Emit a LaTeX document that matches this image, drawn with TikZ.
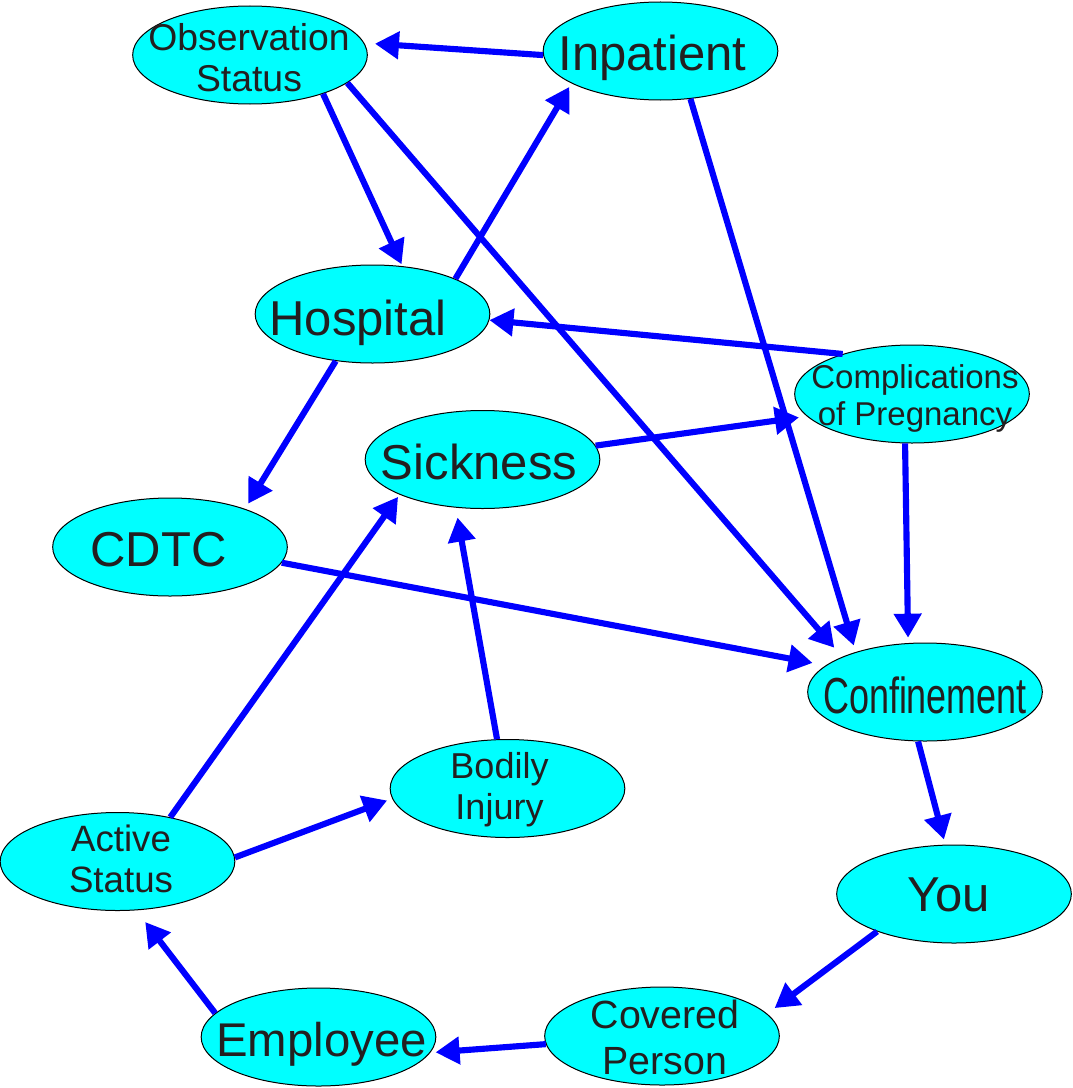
\documentclass[tikz,border=0pt]{standalone}
\usepackage{fontspec}
\usepackage{graphicx}
\setmainfont{Liberation Sans}
\usetikzlibrary{arrows.meta,shapes.geometric}
\definecolor{nodecyan}{RGB}{0,255,255}
\definecolor{arrowblue}{RGB}{0,0,255}
\definecolor{textdark}{RGB}{35,31,32}
\begin{document}
\begin{tikzpicture}[x=0.75pt,y=-0.75pt,
  ell/.style={ellipse, draw=black, line width=0.75pt, fill=nodecyan,
    minimum width=176pt, minimum height=73.5pt, inner sep=0pt},
  lbl/.style={text=textdark, align=center, inner sep=0pt},
  big/.style={lbl, anchor=base, font=\fontsize{36.75}{40}\selectfont},
  conn/.style={draw=arrowblue, line width=4.6pt, -{Triangle[length=18pt,width=20pt]}},
]
\useasboundingbox (0,0) rectangle (1072,1088);

% ellipses
\node[ell] (obs)  at (250,55)   {};
\node[ell] (inp)  at (660.5,51) {};
\node[ell] (hosp) at (372.5,314) {};
\node[ell] (comp) at (912,394)  {};
\node[ell] (sick) at (482.5,459.5) {};
\node[ell] (cdtc) at (170,547)  {};
\node[ell] (conf) at (925,692)  {};
\node[ell] (bod)  at (507.5,788.5) {};
\node[ell] (act)  at (117.5,861.5) {};
\node[ell] (you)  at (954,894)  {};
\node[ell] (cov)  at (662,1036) {};
\node[ell] (emp)  at (318.5,1037) {};

% labels
\node[lbl, font=\fontsize{28}{31.3}\selectfont] (obs-t) at (249,57.6) {Observation\\Status};
\node[big] (inp-t) at (652.5,70) {Inpatient};
\node[big] (hosp-t) at (358,335) {Hospital};
\node[lbl, font=\fontsize{24.75}{27.5}\selectfont] (comp-t) at (915,398.3) {Complications\\of Pregnancy};
\node[big] (sick-t) at (479,479) {Sickness};
\node[big] (cdtc-t) at (158.5,566.7) {CDTC};
\node[big, font=\fontsize{38}{40}\selectfont] (conf-t) at (925,713.3) {\scalebox{0.71}[1]{Confinement}};
\node[lbl, font=\fontsize{27}{30.5}\selectfont] (bod-t) at (499.5,789.5) {Bodily\\Injury};
\node[lbl, font=\fontsize{27.5}{30.5}\selectfont] (act-t) at (121,858.7) {Active\\Status};
\node[big] (you-t) at (948.5,911.7) {You};
\node[lbl, font=\fontsize{29.5}{34}\selectfont] (cov-t) at (665,1037.5) {Covered\\Person};
\node[big, font=\fontsize{35.5}{38}\selectfont] (emp-t) at (321.5,1056.7) {Employee};

% connectors
\draw[conn, shorten >=8pt]   (inp.182)  -- (obs.6);
\draw[conn, shorten >=1.5pt] (obs.-28)  -- (hosp.58);
\draw[conn, shorten >=9pt]   (obs.-16)  -- (conf.157);
\draw[conn, shorten >=3pt]   (hosp.23)  -- (inp.200);
\draw[conn, shorten >=5pt]   (inp.-58)  -- (conf.150);
\draw[conn, shorten >=0pt]   (comp.150) -- (hosp.-3);
\draw[conn, shorten >=4.5pt] (hosp.232) -- (cdtc.27);
\draw[conn, shorten >=6pt]   (sick.7)   -- (comp.192);
\draw[conn, shorten >=4pt]   (comp.262) -- (conf.109);
\draw[conn, shorten >=10pt]  (cdtc.-8)  -- (conf.165);
\draw[conn, shorten >=2pt]   (act.40)   -- (sick.203);
\draw[conn, shorten >=7.5pt] (bod.102)  -- (sick.241);
\draw[conn, shorten >=4pt]   (act.2)    -- (bod.185);
\draw[conn, shorten >=4pt]   (conf.262) -- (you.100);
\draw[conn, shorten >=7pt]   (you.206)  -- (cov.12);
\draw[conn, shorten >=4pt]   (cov.184)  -- (emp.-8);
\draw[conn, shorten >=11pt]  (emp.167)  -- (act.-69);
\end{tikzpicture}
\end{document}
